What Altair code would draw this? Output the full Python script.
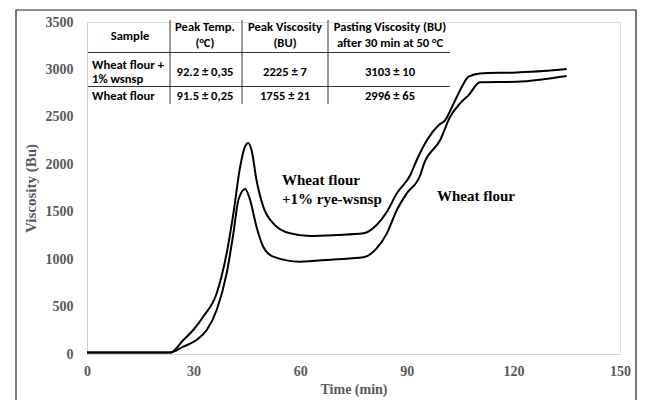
import altair as alt
import pandas as pd

# ---- data ----
t_wsnsp = [0, 10, 20, 23.4, 27.1, 29.9, 32.7, 36.5, 39.3, 41.2, 43.1, 44.5, 45.4, 46.3, 47.7,
           49.6, 52.4, 57.1, 62.8, 70.3, 77.8, 81.5, 84.4, 87.2, 91, 92.8, 95.7, 99, 100.8,
           103.2, 105.5, 107.4, 110.6, 120.9, 128.4, 135]
v_wsnsp = [15, 15, 15, 15, 147, 253, 393, 640, 1061, 1483, 1974, 2190, 2225, 2150, 1834,
           1553, 1377, 1272, 1244, 1254, 1272, 1360, 1500, 1694, 1887, 2045, 2256, 2414, 2466,
           2642, 2818, 2923, 2958, 2968, 2983, 3004]

t_wheat = [0, 10, 20, 23.4, 27.1, 30.8, 33.7, 36.5, 39.3, 41.2, 42.6, 44.5, 45.9, 47.7, 49.6,
           52.4, 59.9, 69.3, 77.8, 81.5, 84.4, 87.2, 90, 93.8, 94.7, 99.4, 102.2, 105, 107.4,
           110.6, 120.9, 128.4, 135]
v_wheat = [15, 15, 15, 15, 77, 147, 253, 464, 850, 1272, 1623, 1740, 1623, 1342, 1131,
           1026, 973, 997, 1019, 1114, 1272, 1518, 1694, 1887, 1992, 2256, 2502, 2642, 2729,
           2864, 2870, 2896, 2930]

header_top = ["", "Peak Temp.", "Peak Viscosity", "Pasting Viscosity (BU)"]
header_bot = ["", "(°C)", "(BU)", "after 30 min at 50 °C"]
row1_label = ["Wheat flour +", "1% wsnsp"]
row1_vals = ["92.2 ± 0,35", "2225 ± 7", "3103 ± 10"]
row2_label = ["Wheat flour"]
row2_vals = ["91.5 ± 0,25", "1755 ± 21", "2996 ± 65"]

x_ticks = [0, 30, 60, 90, 120, 150]
y_ticks = [0, 500, 1000, 1500, 2000, 2500, 3000, 3500]

# ---- build tables ----
curves = pd.concat([
    pd.DataFrame({"t": t_wsnsp, "v": v_wsnsp, "s": "wsnsp"}),
    pd.DataFrame({"t": t_wheat, "v": v_wheat, "s": "wheat"}),
])

W, H = 533, 332
GRAY = "#595959"
TFONT = "Carlito, Lato, Liberation Sans"
SERIF = "Liberation Serif"

# table layout (plot-relative pixels)
col_c = [43, 118, 198, 303]
cells = []
cells.append({"x": col_c[0], "y": 14, "txt": "Sample", "a": "center"})
for i in range(1, 4):
    cells.append({"x": col_c[i], "y": 4.5, "txt": header_top[i], "a": "center"})
    cells.append({"x": col_c[i], "y": 21, "txt": header_bot[i], "a": "center"})
cells.append({"x": 5, "y": 43, "txt": row1_label[0], "a": "left"})
cells.append({"x": 5, "y": 56.5, "txt": row1_label[1], "a": "left"})
for i in range(3):
    cells.append({"x": col_c[i + 1], "y": 50, "txt": row1_vals[i], "a": "center"})
cells.append({"x": 5, "y": 74, "txt": row2_label[0], "a": "left"})
for i in range(3):
    cells.append({"x": col_c[i + 1], "y": 74, "txt": row2_vals[i], "a": "center"})
cells_df = pd.DataFrame(cells)

hlines = pd.DataFrame({"x": [1, 1], "x2": [363, 363], "y": [30.5, 64.5], "y2": [30.5, 64.5]})
vlines = pd.DataFrame({"x": [83, 155, 241], "x2": [83, 155, 241], "y": [-2, -2, -2], "y2": [82, 82, 82]})

xs = alt.Scale(domain=[0, 150], nice=False)
ys = alt.Scale(domain=[0, 3500], nice=False)

lines = alt.Chart(curves).mark_line(color="black", strokeWidth=2, interpolate="monotone").encode(
    x=alt.X("t:Q", scale=xs,
            axis=alt.Axis(values=x_ticks, title="Time (min)", grid=False, ticks=False,
                          format="d", labelFlush=False,
                          domainColor="#d0d0d0", labelPadding=10, titlePadding=4,
                          labelFont=SERIF, labelFontSize=14, labelFontWeight="bold",
                          labelColor=GRAY, titleFont=SERIF, titleFontSize=14,
                          titleFontWeight="bold", titleColor=GRAY)),
    y=alt.Y("v:Q", scale=ys,
            axis=alt.Axis(values=y_ticks, title="Viscosity (Bu)", grid=False, ticks=False,
                          format="d", labelFlush=False,
                          domainColor="#d0d0d0", labelPadding=14, titlePadding=7,
                          labelFont=SERIF, labelFontSize=14, labelFontWeight="bold",
                          labelColor=GRAY, titleFont=SERIF, titleFontSize=15,
                          titleFontWeight="bold", titleColor=GRAY)),
    detail="s:N",
)

one = alt.Data(values=[{"a": 1}])

frame = alt.Chart(one).mark_rect(filled=False, stroke="#222222", strokeWidth=1.2).encode(
    x=alt.value(-71), x2=alt.value(549), y=alt.value(-12), y2=alt.value(390))

ann_df = pd.DataFrame({
    "x": [195, 195, 350],
    "y": [158, 177, 174],
    "txt": ["Wheat flour", "+1% rye-wsnsp", "Wheat flour"],
})
ann = alt.Chart(ann_df).mark_text(font=SERIF, fontSize=15, fontWeight="bold", align="left",
                                  baseline="middle", color="black").encode(
    x=alt.X("x:Q", scale=None), y=alt.Y("y:Q", scale=None), text="txt:N")

tab_c = alt.Chart(cells_df[cells_df.a == "center"]).mark_text(
    font=TFONT, fontSize=12.6, fontWeight="bold", align="center", baseline="middle", color="black"
).encode(x=alt.X("x:Q", scale=None), y=alt.Y("y:Q", scale=None), text="txt:N")
tab_l = alt.Chart(cells_df[cells_df.a == "left"]).mark_text(
    font=TFONT, fontSize=12.6, fontWeight="bold", align="left", baseline="middle", color="black"
).encode(x=alt.X("x:Q", scale=None), y=alt.Y("y:Q", scale=None), text="txt:N")

hl = alt.Chart(hlines).mark_rule(color="#333333", strokeWidth=1).encode(
    x=alt.X("x:Q", scale=None), x2="x2:Q", y=alt.Y("y:Q", scale=None), y2="y2:Q")
vl = alt.Chart(vlines).mark_rule(color="#333333", strokeWidth=1).encode(
    x=alt.X("x:Q", scale=None), x2="x2:Q", y=alt.Y("y:Q", scale=None), y2="y2:Q")

chart = alt.layer(frame, lines, ann, hl, vl, tab_c, tab_l).resolve_scale(
    x="independent", y="independent"
).properties(
    width=W, height=H,
    autosize=alt.AutoSizeParams(type="none"),
    padding={"left": 79, "top": 14, "right": 18, "bottom": 46},
).configure_view(stroke=None).configure(background="white")

chart.save("out.html", embed_options={"renderer": "svg", "actions": False})
